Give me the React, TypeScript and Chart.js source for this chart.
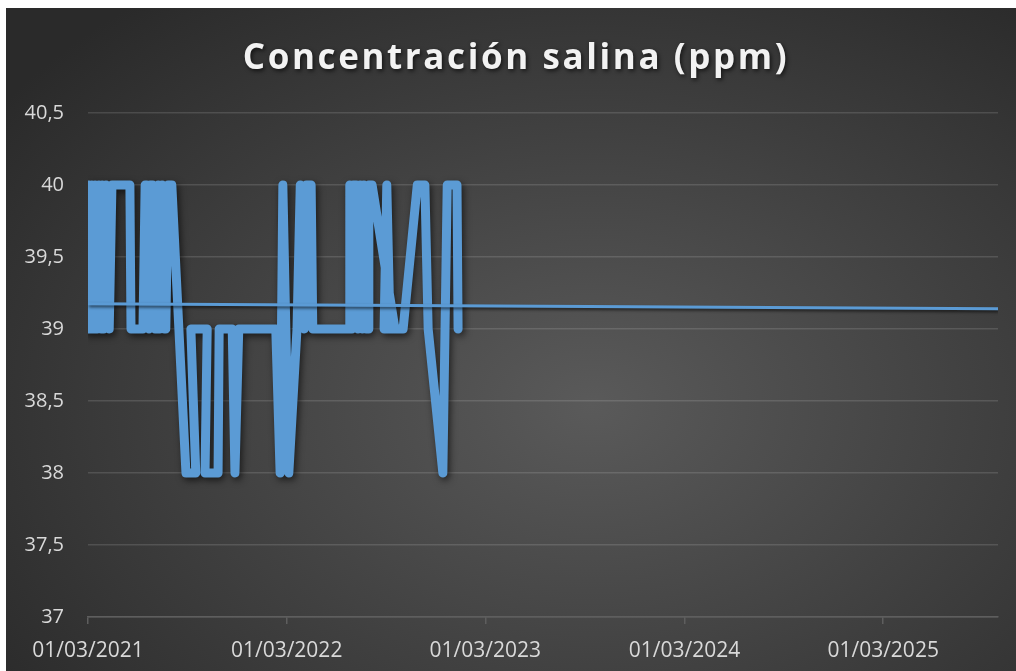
import { useEffect, useRef } from "react";
import { Chart, registerables } from "chart.js";

Chart.register(...registerables);

const TITULO = "Concentración salina (ppm)";
const fechasEje = ["01/03/2021", "01/03/2022", "01/03/2023", "01/03/2024", "01/03/2025"];
// días transcurridos desde el 01/03/2021 de cada medición (en el orden de la hoja)
const dias = [
  0, 2, 6, 7, 11, 13, 17, 20, 24, 26, 29, 33, 39, 44, 77, 79, 101, 105, 108, 112,
  114, 119, 123, 127, 129, 132, 136, 140, 143, 147, 154, 180, 198, 189, 219, 215, 239, 241, 265, 270,
  277, 345, 353, 358, 369, 384, 390, 397, 401, 410, 413, 480, 481, 485, 487, 493, 496, 500, 504, 507,
  511, 515, 516, 522, 564, 544, 549, 555, 579, 605, 619, 625, 652, 660, 678, 680,
];
const salinidad = [
  39, 40, 39, 40, 39, 40, 39, 40, 39, 40, 39, 40, 39, 40, 40, 39, 39, 40, 40, 39,
  40, 40, 39, 39, 40, 39, 40, 39, 39, 40, 40, 38, 38, 39, 39, 38, 38, 39, 39, 38,
  39, 39, 38, 40, 38, 39, 40, 39, 40, 40, 39, 39, 40, 39, 40, 40, 39, 40, 39, 40,
  39, 39, 40, 40, 39, 39, 40, 39, 39, 40, 40, 39, 38, 40, 40, 39,
];
const tendenciaDias = [0, 1672];
const tendenciaValores = [39.175, 39.14];
const ejeXMax = 1672;
const ejeYMin = 37;
const ejeYMax = 40.5;
const ejeYPaso = 0.5;

const DIA_MS = 86400000;
const BASE = Date.UTC(2021, 2, 1);

function fechaADia(s: string): number {
  const [d, m, y] = s.split("/").map(Number);
  return Math.round((Date.UTC(y, m - 1, d) - BASE) / DIA_MS);
}
function diaAFecha(n: number): string {
  const dt = new Date(BASE + Math.round(n) * DIA_MS);
  const dd = String(dt.getUTCDate()).padStart(2, "0");
  const mm = String(dt.getUTCMonth() + 1).padStart(2, "0");
  return `${dd}/${mm}/${dt.getUTCFullYear()}`;
}

const COLOR = "#5B9BD5";
const FUENTE = "'Open Sans', 'Noto Sans', sans-serif";

const tituloPlugin = {
  id: "tituloEspaciado",
  afterDraw(chart: any) {
    const ctx = chart.ctx as CanvasRenderingContext2D;
    ctx.save();
    ctx.font = `700 35px ${FUENTE}`;
    (ctx as any).letterSpacing = "2.6px";
    ctx.fillStyle = "#f2f2f2";
    ctx.textAlign = "center";
    ctx.textBaseline = "middle";
    ctx.shadowColor = "rgba(0,0,0,0.65)";
    ctx.shadowBlur = 4;
    ctx.shadowOffsetX = 1.5;
    ctx.shadowOffsetY = 2;
    ctx.fillText(TITULO, 510, 51);
    ctx.restore();
  },
};

const sombraPlugin = {
  id: "sombraLinea",
  beforeDatasetDraw(chart: any, args: any) {
    const ctx = chart.ctx as CanvasRenderingContext2D;
    ctx.save();
    ctx.shadowColor = "rgba(0,0,0,0.6)";
    ctx.shadowBlur = args.index === 1 ? 7 : 3;
    ctx.shadowOffsetX = args.index === 1 ? 2 : 1;
    ctx.shadowOffsetY = args.index === 1 ? 3 : 2;
  },
  afterDatasetDraw(chart: any) {
    chart.ctx.restore();
  },
};

export default function App() {
  const ref = useRef<HTMLCanvasElement | null>(null);

  useEffect(() => {
    if (!ref.current) return;
    const puntos = dias.map((d, i) => ({ x: d, y: salinidad[i] }));
    const tendencia = tendenciaDias.map((d, i) => ({ x: d, y: tendenciaValores[i] }));
    const ticksX = fechasEje.map(fechaADia);

    const chart = new Chart(ref.current, {
      type: "scatter",
      data: {
        datasets: [
          {
            label: "Tendencia",
            data: tendencia,
            showLine: true,
            borderColor: COLOR,
            borderWidth: 3,
            pointRadius: 0,
            order: 0,
          },
          {
            label: "Concentración salina (ppm)",
            data: puntos,
            showLine: true,
            borderColor: COLOR,
            borderWidth: 9,
            borderJoinStyle: "round",
            borderCapStyle: "round",
            pointRadius: 0,
            tension: 0,
            order: 1,
          },
        ],
      },
      options: {
        animation: false,
        responsive: true,
        maintainAspectRatio: false,
        layout: { padding: { top: 105, right: 18, left: 0, bottom: 0 } },
        plugins: {
          legend: { display: false },
          tooltip: { enabled: false },
          title: { display: false },
        },
        scales: {
          x: {
            type: "linear",
            min: 0,
            max: ejeXMax,
            afterBuildTicks: (scale: any) => {
              scale.ticks = ticksX.map((v) => ({ value: v }));
            },
            afterFit: (scale: any) => {
              scale.height = 54;
            },
            ticks: {
              color: "#d9d9d9",
              font: { family: FUENTE, size: 21 },
              padding: 14,
              maxRotation: 0,
              autoSkip: false,
              callback: (v: any) => diaAFecha(Number(v)),
            },
            grid: {
              drawOnChartArea: false,
              drawTicks: true,
              tickLength: 7,
              color: "#5e5e5e",
              lineWidth: 1.5,
            },
            border: { display: true, color: "#5e5e5e", width: 1.5 },
          },
          y: {
            min: ejeYMin,
            max: ejeYMax,
            afterFit: (scale: any) => {
              scale.width = 82;
            },
            ticks: {
              stepSize: ejeYPaso,
              color: "#d9d9d9",
              font: { family: FUENTE, size: 20 },
              padding: 24,
              callback: (v: any) => String(v).replace(".", ","),
            },
            grid: {
              color: "rgba(255,255,255,0.13)",
              lineWidth: 1.5,
              drawTicks: false,
            },
            border: { display: false },
          },
        },
      },
      plugins: [sombraPlugin, tituloPlugin],
    } as any);
    return () => chart.destroy();
  }, []);

  return (
    <div
      style={{
        position: "fixed",
        left: 6,
        top: 8,
        width: 1010,
        height: 663,
        background:
          "radial-gradient(ellipse 72% 78% at 58% 60%, #5a5a5a 0%, #474747 40%, #2a2a2a 100%)",
      }}
    >
      <canvas ref={ref} />
    </div>
  );
}
